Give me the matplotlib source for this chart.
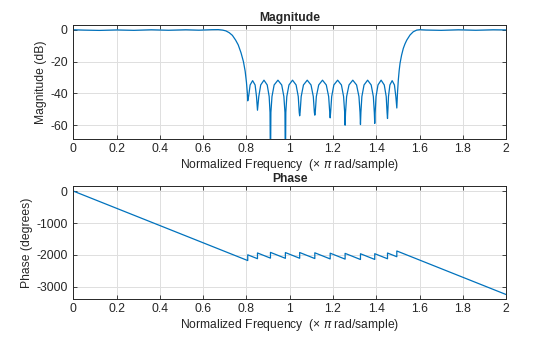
import matplotlib
matplotlib.use("Agg")
import matplotlib.pyplot as plt
import numpy as np

# Magnitude response (normalized freq, dB)
mag_freq = [
    0.00, 0.05, 0.12, 0.20, 0.28, 0.36, 0.44, 0.52, 0.58, 0.64, 0.67, 0.69,
    0.705, 0.72, 0.735, 0.75, 0.762, 0.775, 0.786, 0.794, 0.800, 0.804, 0.806,
    0.8105, 0.817, 0.8285, 0.840, 0.8465, 0.851,
    0.857, 0.866, 0.881, 0.896, 0.905, 0.909, 0.911,
    0.913, 0.918, 0.928, 0.9455, 0.963, 0.973, 0.978, 0.980,
    0.982, 0.9865, 0.9965, 1.013, 1.0295, 1.0395, 1.044, 1.046,
    1.048, 1.053, 1.0635, 1.081, 1.0985, 1.109, 1.114, 1.116,
    1.118, 1.123, 1.134, 1.1515, 1.169, 1.180, 1.185, 1.187,
    1.189, 1.194, 1.204, 1.2215, 1.239, 1.249, 1.254, 1.256,
    1.258, 1.263, 1.274, 1.2915, 1.309, 1.320, 1.325, 1.327,
    1.329, 1.3335, 1.3435, 1.360, 1.3765, 1.3865, 1.391, 1.393,
    1.395, 1.399, 1.408, 1.4225, 1.437, 1.446, 1.450, 1.452,
    1.454, 1.4565, 1.463, 1.4735, 1.484, 1.4905, 1.495,
    1.498, 1.502, 1.506, 1.510, 1.517, 1.525, 1.533, 1.541, 1.556, 1.571,
    1.587, 1.602, 1.63, 1.70, 1.78, 1.86, 1.94, 2.00,
]
mag_db = [
    0.0, -0.2, -0.4, -0.1, -0.35, 0.0, -0.3, 0.0, -0.25, 0.05, 0.1, -0.2,
    -0.7, -1.8, -3.5, -6.5, -9.5, -14.5, -20.0, -26.0, -33.0, -39.5, -44.7,
    -41.5, -34.7, -32.0, -34.7, -42.0, -50.6,
    -42.0, -34.7, -31.7, -34.7, -42.0, -52.0, -90.0,
    -52.0, -42.0, -34.7, -31.7, -34.7, -42.0, -52.0, -90.0,
    -52.0, -42.0, -34.7, -31.7, -34.7, -42.0, -52.0, -54.1,
    -52.0, -42.0, -34.7, -31.7, -34.7, -42.0, -52.0, -53.7,
    -52.0, -42.0, -34.7, -31.7, -34.7, -42.0, -52.0, -55.4,
    -52.0, -42.0, -34.7, -31.7, -34.7, -42.0, -52.0, -60.0,
    -52.0, -42.0, -34.7, -31.7, -34.7, -42.0, -52.0, -59.6,
    -52.0, -42.0, -34.7, -31.7, -34.7, -42.0, -52.0, -58.9,
    -52.0, -42.0, -34.7, -31.7, -34.7, -42.0, -52.0, -55.8,
    -50.0, -42.0, -34.7, -32.0, -34.7, -42.0, -49.2,
    -40.0, -31.5, -25.5, -21.0, -16.0, -11.7, -8.8, -6.5, -3.3, -1.25,
    -0.2, 0.05, -0.15, -0.35, 0.0, -0.3, 0.0, -0.1,
]

# Phase response vertices (normalized freq, degrees)
phase_freq = [
    0.0, 0.806, 0.806, 0.851, 0.851, 0.911, 0.911, 0.980, 0.980,
    1.046, 1.046, 1.116, 1.116, 1.187, 1.187, 1.256, 1.256, 1.327, 1.327,
    1.393, 1.393, 1.452, 1.452, 1.495, 1.495, 2.0,
]
phase_deg = [
    0, -2176, -1996, -2118, -1938, -2100, -1920, -2106, -1926,
    -2104, -1924, -2113, -1933, -2125, -1945, -2131, -1951, -2143, -1963,
    -2141, -1961, -2120, -1940, -2056, -1876, -3240,
]

line_color = "#0072BD"
text_color = "#262626"
plt.rcParams["font.family"] = ["Liberation Sans", "DejaVu Sans"]
plt.rcParams["font.size"] = 8.7
plt.rcParams["axes.unicode_minus"] = False

fig = plt.figure(figsize=(5.6, 3.37), dpi=100)
ax1 = fig.add_axes([0.131, 0.5875, 0.7727, 0.3383])
ax2 = fig.add_axes([0.131, 0.1128, 0.7727, 0.3353])

xlabel = "Normalized Frequency  (× $\\pi$ rad/sample)"

ax1.plot(mag_freq, mag_db, color=line_color, lw=0.9)
ax1.set_xlim(0, 2)
ax1.set_ylim(-68.7, 3)
ax1.set_yticks([-60, -40, -20, 0])
ax1.set_title("Magnitude", fontweight="bold", fontsize=8.7, color=text_color, pad=3)
ax1.set_ylabel("Magnitude (dB)", color=text_color)
ax1.yaxis.set_label_coords(-0.06, 0.5)

ax2.plot(phase_freq, phase_deg, color=line_color, lw=0.9)
ax2.set_xlim(0, 2)
ax2.set_ylim(-3380, 160)
ax2.set_yticks([-3000, -2000, -1000, 0])
ax2.set_title("Phase", fontweight="bold", fontsize=8.7, color=text_color, pad=3)
ax2.set_ylabel("Phase (degrees)", color=text_color)
ax2.yaxis.set_label_coords(-0.094, 0.5)

for ax in (ax1, ax2):
    ax.set_xticks(np.arange(0, 2.01, 0.2))
    ax.set_xticklabels(["0", "0.2", "0.4", "0.6", "0.8", "1", "1.2", "1.4", "1.6", "1.8", "2"])
    ax.set_xlabel(xlabel, color=text_color, labelpad=1)
    ax.grid(True, color="#dfdfdf", lw=0.7)
    ax.set_axisbelow(True)
    ax.tick_params(direction="in", top=True, right=True, length=3, width=0.6,
                   colors=text_color, labelsize=8.7)
    ax.tick_params(axis="y", pad=4)
    ax.tick_params(axis="x", pad=3)
    for s in ax.spines.values():
        s.set_color(text_color)
        s.set_linewidth(0.7)

fig.savefig("out.png", dpi=100)
